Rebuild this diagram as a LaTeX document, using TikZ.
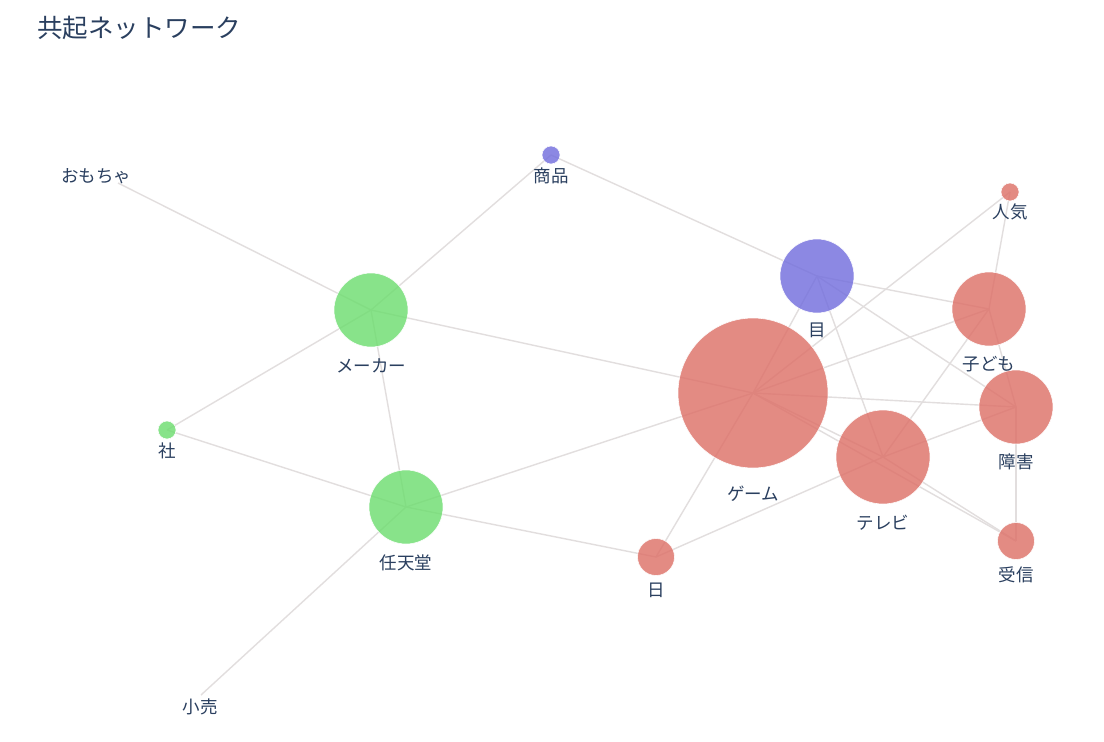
\documentclass[tikz,border=0pt]{standalone}
\usepackage{fontspec}
\newfontfamily\jp{Noto Sans CJK JP}
\pgfdeclarelayer{bg}
\pgfsetlayers{bg,main}
\definecolor{rednode}{RGB}{221,110,101}
\definecolor{greennode}{RGB}{107,221,109}
\definecolor{bluenode}{RGB}{112,107,221}
\definecolor{edgegray}{RGB}{226,222,222}
\definecolor{labeltext}{RGB}{42,63,95}
\tikzset{
  nd/.style={circle, inner sep=0pt, minimum size=#1, fill opacity=0.8, draw=white, draw opacity=0.9, line width=0.6pt},
  rn/.style={nd=#1, fill=rednode},
  gn/.style={nd=#1, fill=greennode},
  bn/.style={nd=#1, fill=bluenode},
  lbl/.style={inner sep=0pt, text=labeltext, font=\jp\fontsize{17.5}{19}\selectfont},
  edge/.style={draw=edgegray, line width=1.4pt}
}
\begin{document}
\begin{tikzpicture}[x=1pt,y=-1pt]
\useasboundingbox (0,0) rectangle (1104,742);
\node[anchor=west, inner sep=0pt, text=labeltext, font=\jp\fontsize{25.5}{28}\selectfont] (title) at (37,28) {共起ネットワーク};
% nodes
\coordinate (Om) at (118,183);
\coordinate (Kou) at (201,695);
\node[bn=18pt] (Sh) at (551,155) {};
\node[rn=18pt] (Ni) at (1010,192) {};
\node[bn=74pt] (Mo) at (817,276) {};
\node[rn=74pt] (Ko) at (989,309) {};
\node[gn=74pt] (Me) at (371,310) {};
\node[rn=150pt] (Ga) at (753,393) {};
\node[rn=74pt] (Sg) at (1016,407) {};
\node[gn=18pt] (Sa) at (167,430) {};
\node[rn=94pt] (Te) at (883,457) {};
\node[gn=74pt] (Nt) at (406,507) {};
\node[rn=37pt] (Hi) at (656,557) {};
\node[rn=37pt] (Ju) at (1016,541) {};
% labels
\node[lbl] (lOm) at (96,176) {おもちゃ};
\node[lbl] (lSh) at (551,176) {商品};
\node[lbl] (lNi) at (1010,212) {人気};
\node[lbl] (lMo) at (817,330) {目};
\node[lbl] (lKo) at (989,364) {子ども};
\node[lbl] (lMe) at (371,366) {メーカー};
\node[lbl] (lGa) at (753,494) {ゲーム};
\node[lbl] (lSg) at (1016,462) {障害};
\node[lbl] (lSa) at (167,451) {社};
\node[lbl] (lTe) at (883,523) {テレビ};
\node[lbl] (lNt) at (406,563) {任天堂};
\node[lbl] (lHi) at (656,590) {日};
\node[lbl] (lJu) at (1016,575) {受信};
\node[lbl] (lKou) at (200,707) {小売};
% edges
\begin{pgfonlayer}{bg}
\fill[white] (0,0) rectangle (1104,742);
\draw[edge] (Om) -- (Me.center);
\draw[edge] (Sh.center) -- (Me.center);
\draw[edge] (Sh.center) -- (Mo.center);
\draw[edge] (Me.center) -- (Ga.center);
\draw[edge] (Me.center) -- (Sa.center);
\draw[edge] (Me.center) -- (Nt.center);
\draw[edge] (Sa.center) -- (Nt.center);
\draw[edge] (Nt.center) -- (Ga.center);
\draw[edge] (Nt.center) -- (Hi.center);
\draw[edge] (Nt.center) -- (Kou);
\draw[edge] (Hi.center) -- (Ga.center);
\draw[edge] (Hi.center) -- (Te.center);
\draw[edge] (Te.center) -- (Sg.center);
\draw[edge] (Mo.center) -- (Ga.center);
\draw[edge] (Mo.center) -- (Ko.center);
\draw[edge] (Mo.center) -- (Sg.center);
\draw[edge] (Mo.center) -- (Te.center);
\draw[edge] (Ni.center) -- (Ga.center);
\draw[edge] (Ni.center) -- (Ko.center);
\draw[edge] (Ko.center) -- (Sg.center);
\draw[edge] (Ko.center) -- (Ga.center);
\draw[edge] (Ko.center) -- (Te.center);
\draw[edge] (Ga.center) -- (Sg.center);
\draw[edge] (Ga.center) -- (Te.center);
\draw[edge] (Ga.center) -- (Ju.center);
\draw[edge] (Te.center) -- (Ju.center);
\draw[edge] (Sg.center) -- (Ju.center);
\end{pgfonlayer}
\end{tikzpicture}
\end{document}
